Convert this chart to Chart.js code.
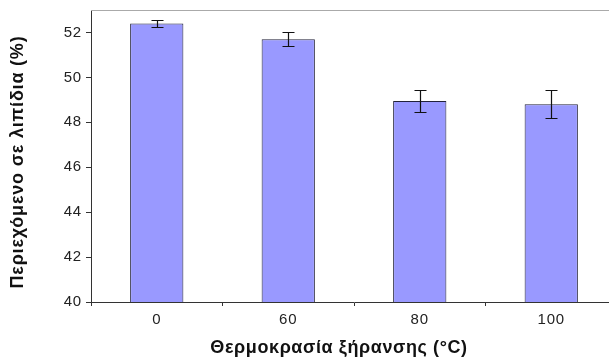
<!DOCTYPE html>
<html>
<head>
<meta charset="utf-8">
<script src="https://cdn.jsdelivr.net/npm/chart.js@4"></script>
<style>
  html, body { margin: 0; padding: 0; background: #fff; overflow: hidden; }
  #wrap { width: 617px; height: 360px; }
</style>
</head>
<body>
<div id="wrap"><canvas id="c"></canvas></div>
<script>
// Drying temperature (°C) vs lipid content (%), mean ± error
const categories = ['0', '60', '80', '100'];
const lipidMean = [52.4, 51.7, 48.95, 48.8];
const lipidError = [0.16, 0.31, 0.48, 0.63];
const yTickValues = [40, 42, 44, 46, 48, 50, 52];

const xTitle = 'Θερμοκρασία ξήρανσης (°C)';
const yTitle = 'Περιεχόμενο σε λιπίδια (%)';

const FONT = '"Liberation Sans", Arial, sans-serif';

// Slightly open letter spacing for all chart text
const spacing = {
  id: 'spacing',
  beforeDraw(chart) { chart.ctx.letterSpacing = '0.8px'; }
};

// Error bars drawn on top of each bar via the y scale
const errorBars = {
  id: 'errorBars',
  afterDatasetsDraw(chart) {
    const ctx = chart.ctx;
    const y = chart.scales.y;
    const meta = chart.getDatasetMeta(0);
    ctx.save();
    ctx.strokeStyle = '#111';
    ctx.lineWidth = 1.2;
    meta.data.forEach((bar, i) => {
      const x = Math.round(bar.x) + 0.5;
      const top = Math.round(y.getPixelForValue(lipidMean[i] + lipidError[i])) + 0.5;
      const bot = Math.round(y.getPixelForValue(lipidMean[i] - lipidError[i])) + 0.5;
      const half = 6;
      ctx.beginPath();
      ctx.moveTo(x, top); ctx.lineTo(x, bot);
      ctx.moveTo(x - half, top); ctx.lineTo(x + half, top);
      ctx.moveTo(x - half, bot); ctx.lineTo(x + half, bot);
      ctx.stroke();
    });
    ctx.restore();
  }
};

// Frame line along the top of the plot and the two axis titles
const frameAndTitles = {
  id: 'frameAndTitles',
  afterDraw(chart) {
    const ctx = chart.ctx;
    const a = chart.chartArea;
    ctx.save();
    ctx.strokeStyle = '#aaa';
    ctx.lineWidth = 1;
    ctx.beginPath();
    ctx.moveTo(a.left, Math.round(a.top) + 0.5);
    ctx.lineTo(a.right, Math.round(a.top) + 0.5);
    ctx.stroke();

    ctx.fillStyle = '#111';
    ctx.letterSpacing = '0.6px';
    ctx.font = 'bold 18px ' + FONT;
    ctx.textAlign = 'center';
    ctx.textBaseline = 'middle';
    ctx.fillText(xTitle, 339, 348);

    ctx.letterSpacing = '0.8px';
    ctx.translate(18, 162);
    ctx.rotate(-Math.PI / 2);
    ctx.fillText(yTitle, 0, 0);
    ctx.restore();
  }
};

new Chart(document.getElementById('c'), {
  type: 'bar',
  data: {
    labels: categories,
    datasets: [{
      data: lipidMean,
      backgroundColor: '#9999ff',
      borderColor: '#22223a',
      borderWidth: 1,
      categoryPercentage: 1,
      barPercentage: 0.405
    }]
  },
  options: {
    responsive: true,
    maintainAspectRatio: false,
    animation: false,
    layout: { padding: { top: 10, left: 0, right: 0, bottom: 0 } },
    plugins: { legend: { display: false }, tooltip: { enabled: false } },
    scales: {
      x: {
        offset: true,
        grid: { offset: true, drawOnChartArea: false, tickLength: 4, color: '#333' },
        border: { color: '#333', width: 1 },
        ticks: { color: '#222', font: { family: FONT, size: 15 }, padding: 5 },
        afterFit(scale) { scale.height = 58; scale.paddingLeft = 0; scale.paddingRight = 0; }
      },
      y: {
        min: 40,
        max: 53,
        grid: { drawOnChartArea: false, tickLength: 5, color: '#333' },
        border: { color: '#333', width: 1 },
        ticks: { color: '#222', font: { family: FONT, size: 15 }, padding: 4 },
        afterBuildTicks(scale) {
          scale.ticks = yTickValues.map(v => ({ value: v }));
        },
        afterFit(scale) { scale.width = 91; scale.paddingTop = 0; scale.paddingBottom = 0; }
      }
    }
  },
  plugins: [spacing, errorBars, frameAndTitles]
});
</script>
</body>
</html>
